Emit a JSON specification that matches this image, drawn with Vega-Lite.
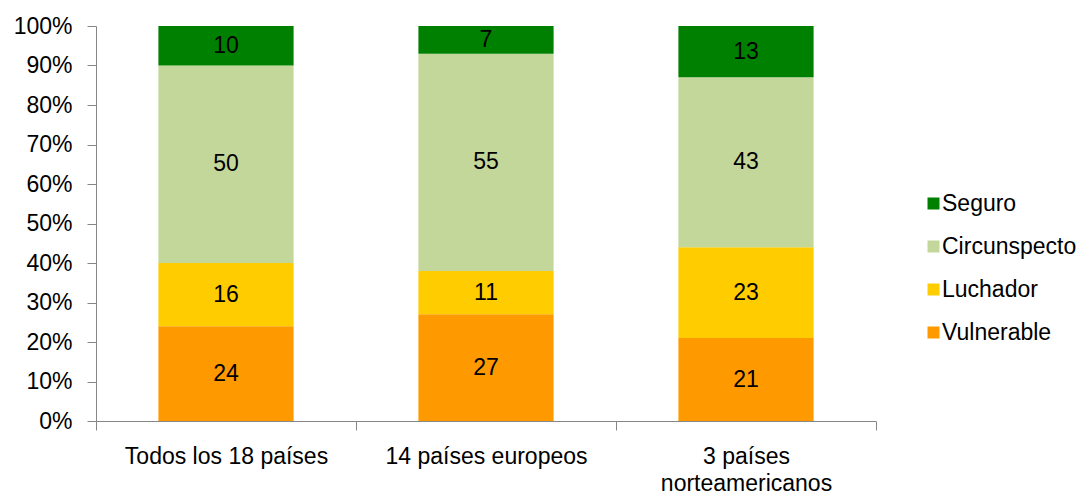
{
  "$schema": "https://vega.github.io/schema/vega-lite/v6.json",
  "width": 780,
  "height": 395,
  "autosize": "none",
  "padding": {"left": 96, "top": 26, "right": 208, "bottom": 75},
  "background": "white",
  "config": {"view": {"stroke": null}, "font": "Liberation Sans"},
  "data": {
    "values": [
      {"cat": "Todos los 18 países", "serie": "Vulnerable", "ord": 1, "v": 24},
      {"cat": "Todos los 18 países", "serie": "Luchador", "ord": 2, "v": 16},
      {"cat": "Todos los 18 países", "serie": "Circunspecto", "ord": 3, "v": 50},
      {"cat": "Todos los 18 países", "serie": "Seguro", "ord": 4, "v": 10},
      {"cat": "14 países europeos", "serie": "Vulnerable", "ord": 1, "v": 27},
      {"cat": "14 países europeos", "serie": "Luchador", "ord": 2, "v": 11},
      {"cat": "14 países europeos", "serie": "Circunspecto", "ord": 3, "v": 55},
      {"cat": "14 países europeos", "serie": "Seguro", "ord": 4, "v": 7},
      {"cat": "3 países norteamericanos", "serie": "Vulnerable", "ord": 1, "v": 21},
      {"cat": "3 países norteamericanos", "serie": "Luchador", "ord": 2, "v": 23},
      {"cat": "3 países norteamericanos", "serie": "Circunspecto", "ord": 3, "v": 43},
      {"cat": "3 países norteamericanos", "serie": "Seguro", "ord": 4, "v": 13}
    ]
  },
  "transform": [
    {"stack": "v", "groupby": ["cat"], "sort": [{"field": "ord"}], "offset": "normalize", "as": ["y0", "y1"]},
    {"calculate": "(datum.y0 + datum.y1) / 2", "as": "mid"}
  ],
  "encoding": {
    "x": {
      "field": "cat",
      "type": "nominal",
      "sort": ["Todos los 18 países", "14 países europeos", "3 países norteamericanos"],
      "scale": {"paddingInner": 0, "paddingOuter": 0},
      "axis": {
        "title": null,
        "tickBand": "extent",
        "labelAngle": 0,
        "labelFontSize": 23,
        "labelFont": "Liberation Sans",
        "labelColor": "black",
        "labelPadding": 15,
        "labelLineHeight": 27,
        "labelLimit": 0,
        "labelOverlap": false,
        "labelExpr": "datum.value == '3 países norteamericanos' ? ['3 países', 'norteamericanos'] : datum.value",
        "domainColor": "#868686",
        "tickColor": "#868686",
        "tickSize": 9
      }
    }
  },
  "layer": [
    {
      "mark": {"type": "bar", "width": {"band": 0.52}},
      "encoding": {
        "y": {
          "field": "y0",
          "type": "quantitative",
          "scale": {"domain": [0, 1]},
          "axis": {
            "title": null,
            "values": [0, 0.1, 0.2, 0.3, 0.4, 0.5, 0.6, 0.7, 0.8, 0.9, 1],
            "format": ".0%",
            "grid": false,
            "labelOverlap": false,
            "labelFontSize": 23,
            "labelFont": "Liberation Sans",
            "labelColor": "black",
            "labelPadding": 15,
            "domainColor": "#868686",
            "tickColor": "#868686",
            "tickSize": 9
          }
        },
        "y2": {"field": "y1"},
        "color": {
          "field": "serie",
          "type": "nominal",
          "scale": {
            "domain": ["Seguro", "Circunspecto", "Luchador", "Vulnerable"],
            "range": ["#008000", "#C4D79B", "#FFCC00", "#FF9900"]
          },
          "legend": {
            "title": null,
            "orient": "none",
            "legendX": 826,
            "legendY": 166,
            "padding": 0,
            "symbolType": "square",
            "symbolSize": 144,
            "symbolStrokeWidth": 0,
            "labelFontSize": 23,
            "labelFont": "Liberation Sans",
            "labelColor": "black",
            "labelOffset": -3,
            "rowPadding": 19
          }
        }
      }
    },
    {
      "mark": {"type": "text", "fontSize": 23, "font": "Liberation Sans", "color": "black"},
      "encoding": {
        "y": {
          "field": "mid",
          "type": "quantitative",
          "axis": {
            "title": null,
            "values": [0, 0.1, 0.2, 0.3, 0.4, 0.5, 0.6, 0.7, 0.8, 0.9, 1],
            "format": ".0%",
            "grid": false,
            "labelOverlap": false,
            "labelFontSize": 23,
            "labelFont": "Liberation Sans",
            "labelColor": "black",
            "labelPadding": 15,
            "domainColor": "#868686",
            "tickColor": "#868686",
            "tickSize": 9
          }
        },
        "text": {"field": "v", "type": "quantitative"}
      }
    }
  ]
}
